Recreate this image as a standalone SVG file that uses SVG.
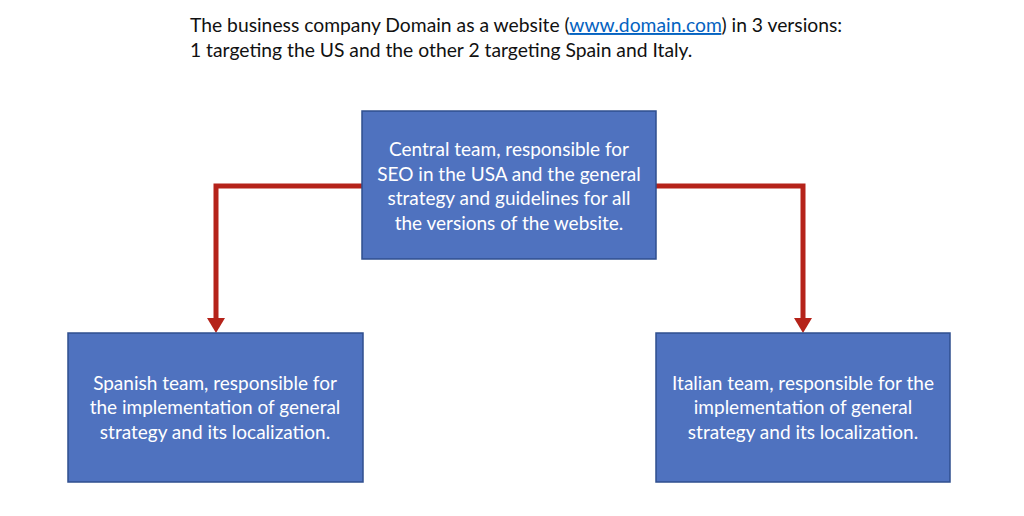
<svg xmlns="http://www.w3.org/2000/svg" width="1024" height="516" viewBox="0 0 1024 516">
<style>
.box{fill:#4F72BF;stroke:#2F4F8F;stroke-width:1.5}
.lbl{font-family:Lato,"Open Sans","Liberation Sans",sans-serif;font-size:19px;fill:#ffffff;text-anchor:middle}
.title{font-family:Lato,"Open Sans","Liberation Sans",sans-serif;font-size:19.3px;fill:#111111}
.conn{fill:none;stroke:#B5231A;stroke-width:5}
</style>
<defs>
<marker id="arr" markerUnits="userSpaceOnUse" markerWidth="16" markerHeight="18" refX="0" refY="9" orient="auto" overflow="visible">
<path d="M0,0 L15,9 L0,18 Z" fill="#B5231A"/>
</marker>
</defs>
<rect width="1024" height="516" fill="#ffffff"/>
<g id="title">
<text class="title" x="190" y="32">The business company Domain as a website (<tspan fill="#0563C1" text-decoration="underline">www.domain.com</tspan>) in 3 versions:</text>
<text class="title" x="190" y="57">1 targeting the US and the other 2 targeting Spain and Italy.</text>
</g>
<g id="connectors">
<path class="conn" d="M362,186 H216 V318" marker-end="url(#arr)"/>
<path class="conn" d="M656,186 H803 V318" marker-end="url(#arr)"/>
</g>
<g id="central">
<rect class="box" x="362" y="111" width="294" height="148"/>
<text class="lbl" x="509" y="156">Central team, responsible for</text>
<text class="lbl" x="509" y="181">SEO in the USA and the general</text>
<text class="lbl" x="509" y="205">strategy and guidelines for all</text>
<text class="lbl" x="509" y="230">the versions of the website.</text>
</g>
<g id="spanish">
<rect class="box" x="68" y="333" width="295" height="149"/>
<text class="lbl" x="215" y="390">Spanish team, responsible for</text>
<text class="lbl" x="215" y="414">the implementation of general</text>
<text class="lbl" x="215" y="439">strategy and its localization.</text>
</g>
<g id="italian">
<rect class="box" x="656" y="333" width="294" height="149"/>
<text class="lbl" x="803" y="390">Italian team, responsible for the</text>
<text class="lbl" x="803" y="414">implementation of general</text>
<text class="lbl" x="803" y="439">strategy and its localization.</text>
</g>
</svg>
